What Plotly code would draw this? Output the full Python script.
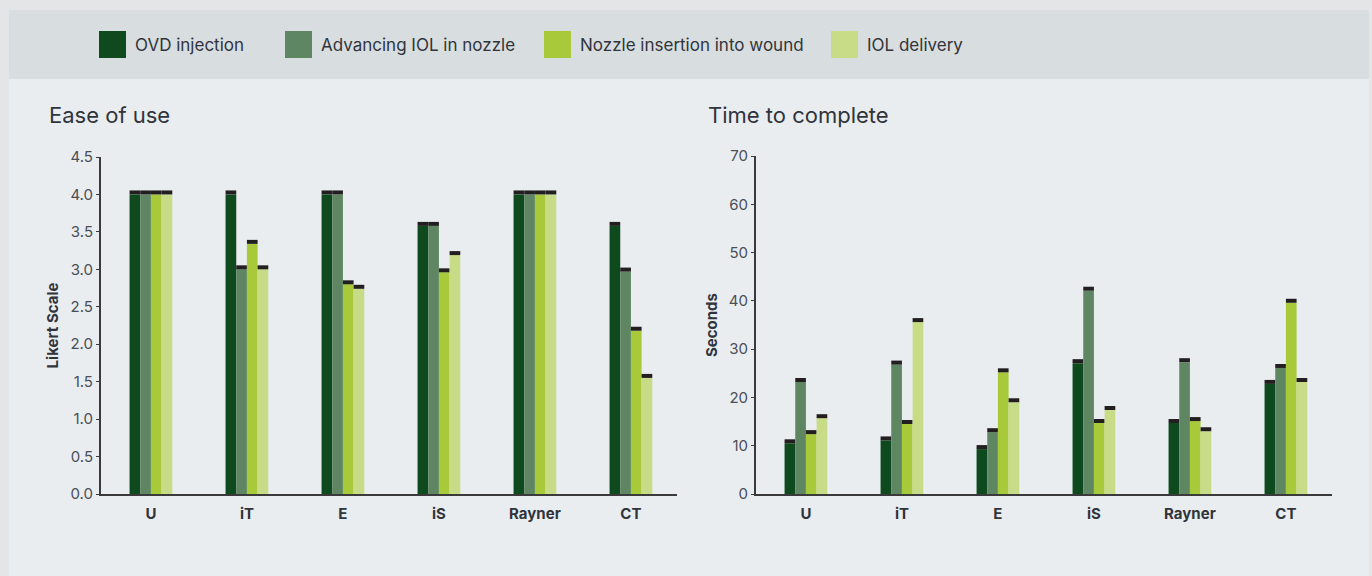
import plotly.graph_objects as go

W, H = 1372, 576

categories = ["U", "iT", "E", "iS", "Rayner", "CT"]
series_names = ["OVD injection", "Advancing IOL in nozzle", "Nozzle insertion into wound", "IOL delivery"]
series_colors = ["#0f4a1f", "#5f8662", "#a7c93a", "#c8dc88"]
cap_color = "#231f20"

# Ease of use (Likert scale)
ease_ovd = [4.0, 4.0, 4.0, 3.58, 4.0, 3.58]
ease_adv = [4.0, 3.0, 4.0, 3.58, 4.0, 2.97]
ease_noz = [4.0, 3.34, 2.80, 2.96, 4.0, 2.18]
ease_iol = [4.0, 3.0, 2.74, 3.19, 4.0, 1.55]

# Time to complete (seconds)
time_ovd = [10.5, 11.1, 9.3, 27.1, 14.7, 22.8]
time_adv = [23.2, 26.8, 12.8, 42.1, 27.3, 26.1]
time_noz = [12.4, 14.5, 25.2, 14.7, 15.1, 39.6]
time_iol = [15.7, 35.6, 19.0, 17.4, 13.0, 23.2]

ease_ticks = [0.0, 0.5, 1.0, 1.5, 2.0, 2.5, 3.0, 3.5, 4.0, 4.5]
time_ticks = [0, 10, 20, 30, 40, 50, 60, 70]

ease_series = [ease_ovd, ease_adv, ease_noz, ease_iol]
time_series = [time_ovd, time_adv, time_noz, time_iol]

def px_x(p):
    return p / W

def px_y(p):
    return 1 - p / H

fig = go.Figure()

# pixel heights of the black caps converted to data units
cap_ease = 4 / (337 / 4.5)
cap_time = 4 / (338 / 70)

for axis_idx, (data, cap) in enumerate([(ease_series, cap_ease), (time_series, cap_time)]):
    xa = "x" if axis_idx == 0 else "x2"
    ya = "y" if axis_idx == 0 else "y2"
    for i, (name, col, vals) in enumerate(zip(series_names, series_colors, data)):
        fig.add_trace(go.Bar(
            x=categories, y=vals, name=name, marker=dict(color=col, line=dict(width=0)),
            offsetgroup=str(i), xaxis=xa, yaxis=ya, showlegend=False,
        ))
        fig.add_trace(go.Bar(
            x=categories, y=[cap] * len(vals), base=vals, marker=dict(color=cap_color, line=dict(width=0)),
            offsetgroup=str(i), xaxis=xa, yaxis=ya, showlegend=False, hoverinfo="skip",
        ))

font_main = "Inter, Lato, sans-serif"
text_col = "#30343b"
tick_col = "#4a4f57"

axis_common = dict(
    showline=True, linecolor="#3a3a3a", linewidth=2, showgrid=False, zeroline=False, automargin=False,
)

xrange = [-0.52, 5.48]

fig.update_layout(
    width=W, height=H, autosize=False,
    margin=dict(l=0, r=0, t=0, b=0, pad=0),
    paper_bgcolor="#e4e5e7",
    plot_bgcolor="rgba(0,0,0,0)",
    barmode="group", bargap=0.555, bargroupgap=0,
    showlegend=False,
    font=dict(family=font_main, color=text_col),
    xaxis=dict(domain=[px_x(101), px_x(677)], anchor="y", range=xrange,
               tickfont=dict(size=15, color=text_col, weight="bold"), ticks="", ticklabelstandoff=5,
               **axis_common),
    yaxis=dict(domain=[px_y(494), px_y(157)], anchor="x", range=[0, 4.5],
               tickvals=ease_ticks, ticktext=[f"{t:.1f}" for t in ease_ticks],
               ticks="outside", ticklen=3, tickcolor="#3a3a3a", tickwidth=1,
               tickfont=dict(size=15, color=tick_col),
               title=dict(text="Likert Scale", font=dict(size=15, color=text_col, weight="bold"), standoff=8),
               **axis_common),
    xaxis2=dict(domain=[px_x(756), px_x(1332)], anchor="y2", range=xrange,
                tickfont=dict(size=15, color=text_col, weight="bold"), ticks="", ticklabelstandoff=5,
                **axis_common),
    yaxis2=dict(domain=[px_y(494), px_y(156)], anchor="x2", range=[0, 70],
                tickvals=time_ticks,
                ticks="outside", ticklen=3, tickcolor="#3a3a3a", tickwidth=1,
                tickfont=dict(size=15, color=tick_col),
                title=dict(text="Seconds", font=dict(size=15, color=text_col, weight="bold"), standoff=8),
                **axis_common),
)

shapes = [
    dict(type="rect", xref="paper", yref="paper", x0=px_x(9), x1=px_x(1369), y0=0, y1=px_y(10),
         fillcolor="#e9edf0", line=dict(width=0), layer="below"),
    dict(type="rect", xref="paper", yref="paper", x0=px_x(9), x1=px_x(1369), y0=px_y(79), y1=px_y(10),
         fillcolor="#d8dde0", line=dict(width=0), layer="below"),
]
annotations = [
    dict(text="Ease of use", xref="paper", yref="paper", x=px_x(47), y=px_y(115), xanchor="left",
         yanchor="middle", showarrow=False, font=dict(size=22, color=text_col)),
    dict(text="Time to complete", xref="paper", yref="paper", x=px_x(706), y=px_y(115), xanchor="left",
         yanchor="middle", showarrow=False, font=dict(size=22, color=text_col)),
]

legend_box_x = [99, 285, 544, 831]
for name, col, bx in zip(series_names, series_colors, legend_box_x):
    shapes.append(dict(type="rect", xref="paper", yref="paper", x0=px_x(bx), x1=px_x(bx + 27),
                       y0=px_y(58), y1=px_y(31), fillcolor=col, line=dict(width=0)))
    annotations.append(dict(text=name, xref="paper", yref="paper", x=px_x(bx + 34), y=px_y(45),
                            xanchor="left", yanchor="middle", showarrow=False,
                            font=dict(size=17, color=text_col)))

fig.update_layout(shapes=shapes, annotations=annotations)

fig.write_html("out.html", config={"displayModeBar": False},
               post_script="document.body.style.margin='0';document.body.style.overflow='hidden';")
